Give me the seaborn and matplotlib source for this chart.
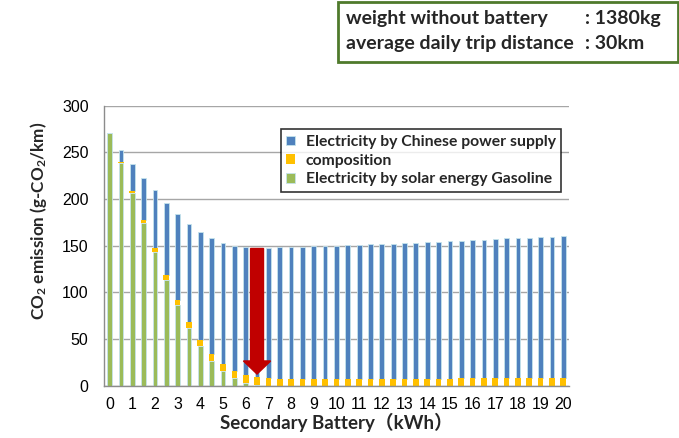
import numpy as np
import pandas as pd
import matplotlib
matplotlib.use("Agg")
import matplotlib.pyplot as plt
import matplotlib.patches as mpatches
import seaborn as sns

# battery sizes (kWh), one bar every 0.5
battery = [i / 2 for i in range(41)]

# stacked segments, g-CO2/km
gasoline = [270.4, 238.2, 206.0, 174.0, 143.0, 113.6, 86.0, 62.0, 42.5, 26.8,
            15.7, 8.2, 3.2, 1.0, 0.2] + [0.0] * 26
composition = [0.0, 1.8, 2.9, 3.5, 4.0, 5.0, 5.8, 6.6, 6.8, 7.5,
               7.5, 7.5, 8.2, 8.3, 8.0,
               7.0, 7.0, 7.1, 7.1, 7.2, 7.2, 7.3, 7.3, 7.4, 7.4, 7.5, 7.5, 7.6,
               7.6, 7.7, 7.7, 7.8, 7.8, 7.9, 7.9, 8.0, 8.0, 8.1, 8.1, 8.2, 8.2]
electricity = [0.0, 12.0, 28.6, 45.5, 62.6, 77.1, 91.8, 104.3, 115.0, 123.9,
               129.3, 134.3, 136.8, 138.2, 138.8,
               141.3, 141.4, 141.5, 142.2, 142.4, 142.8, 143.1, 143.7, 144.0,
               144.4, 144.6, 145.4, 145.6, 146.3, 146.6, 147.3, 147.6, 147.9,
               148.5, 149.2, 149.9, 150.2, 150.5, 150.8, 151.4, 152.2]

tick_labels = [str(i) for i in range(21)]

df = pd.DataFrame({"battery": battery, "gasoline": gasoline,
                   "composition": composition, "electricity": electricity})
df["comp_bottom"] = df["gasoline"]
df["elec_bottom"] = df["gasoline"] + df["composition"]

sns.set_style("white")
plt.rcParams["font.family"] = ["Liberation Sans", "DejaVu Sans"]
plt.rcParams["mathtext.fontset"] = "custom"
plt.rcParams["mathtext.rm"] = "Lato:bold"
plt.rcParams["mathtext.it"] = "Lato:bold"
plt.rcParams["mathtext.bf"] = "Lato:bold"

fig = plt.figure(figsize=(6.79, 4.38), dpi=100)
ax = fig.add_axes([0.153, 0.1194, 0.685, 0.6393])

blue = "#4F81BD"
yellow = "#FFC000"
green = "#9BBB59"
edge = "#C5E3EC"

sns.barplot(data=df, x="battery", y="gasoline", color=green, width=0.42,
            edgecolor=edge, linewidth=0.6, saturation=1, ax=ax,
            label="Electricity by solar energy Gasoline")
sns.barplot(data=df, x="battery", y="electricity", bottom=df["elec_bottom"],
            color=blue, width=0.42, edgecolor=edge, linewidth=0.6,
            saturation=1, ax=ax, label="Electricity by Chinese power supply")
sns.barplot(data=df, x="battery", y="composition", bottom=df["comp_bottom"],
            color=yellow, width=0.5, linewidth=0, saturation=1, ax=ax,
            label="composition")

ax.set_ylim(0, 300)
ax.set_xlim(-0.5, 40.5)
ax.set_yticks(range(0, 301, 50))
ax.set_xticks(range(0, 41, 2))
ax.set_xticklabels(tick_labels)
ax.tick_params(axis="both", labelsize=11.5, colors="black")
ax.tick_params(axis="x", length=0, pad=8)
ax.tick_params(axis="y", length=3, width=1, color="#8C8C8C", pad=8)
ax.yaxis.grid(True, color="#A6A6A6", linewidth=1)
ax.set_axisbelow(True)
for s in ["top", "right"]:
    ax.spines[s].set_visible(False)
for s in ["left", "bottom"]:
    ax.spines[s].set_color("#8C8C8C")
    ax.spines[s].set_linewidth(1)

bold = dict(family=["Lato", "Noto Sans CJK SC", "DejaVu Sans"], weight="bold")
ax.set_xlabel("Secondary Battery（kWh）", fontsize=13.5, labelpad=1, **bold)
ax.set_ylabel(r"CO$_2$ emission (g-CO$_2$/km)", fontsize=12.3, **bold)
ax.yaxis.set_label_coords(-0.117, 0.588)

# red arrow at 6.5 kWh
arrow = mpatches.FancyArrow(13, 147, 0, -134.5, width=1.14, head_width=2.4,
                            head_length=14, length_includes_head=True,
                            color="#C00000", zorder=5)
ax.add_patch(arrow)

handles, labels = ax.get_legend_handles_labels()
order = ["Electricity by Chinese power supply", "composition",
         "Electricity by solar energy Gasoline"]
hmap = dict(zip(labels, handles))
leg = ax.legend([hmap[k] for k in order], order, loc="upper right",
                bbox_to_anchor=(1.0, 0.943), frameon=True, fancybox=False,
                edgecolor="black", handlelength=0.55, handleheight=0.55,
                handletextpad=0.7, borderpad=0.35, labelspacing=0.3,
                prop=dict(family="Lato", weight="bold", size=11.3))
leg.get_frame().set_linewidth(1.2)

# info box at the top
fig.patches.append(mpatches.Rectangle((0.4978, 0.8584), 0.5007, 0.137,
                                      transform=fig.transFigure, fill=False,
                                      edgecolor="#4F7A2C", linewidth=2))
fig.text(0.5096, 0.957, "weight without battery", va="center", fontsize=14,
         family="Lato", weight="bold")
fig.text(0.5096, 0.900, "average daily trip distance", va="center",
         fontsize=14, family="Lato", weight="bold")
fig.text(0.861, 0.957, ": 1380kg", va="center", fontsize=14,
         family="Lato", weight="bold")
fig.text(0.861, 0.900, ": 30km", va="center", fontsize=14,
         family="Lato", weight="bold")

fig.savefig("out.png", dpi=100)
